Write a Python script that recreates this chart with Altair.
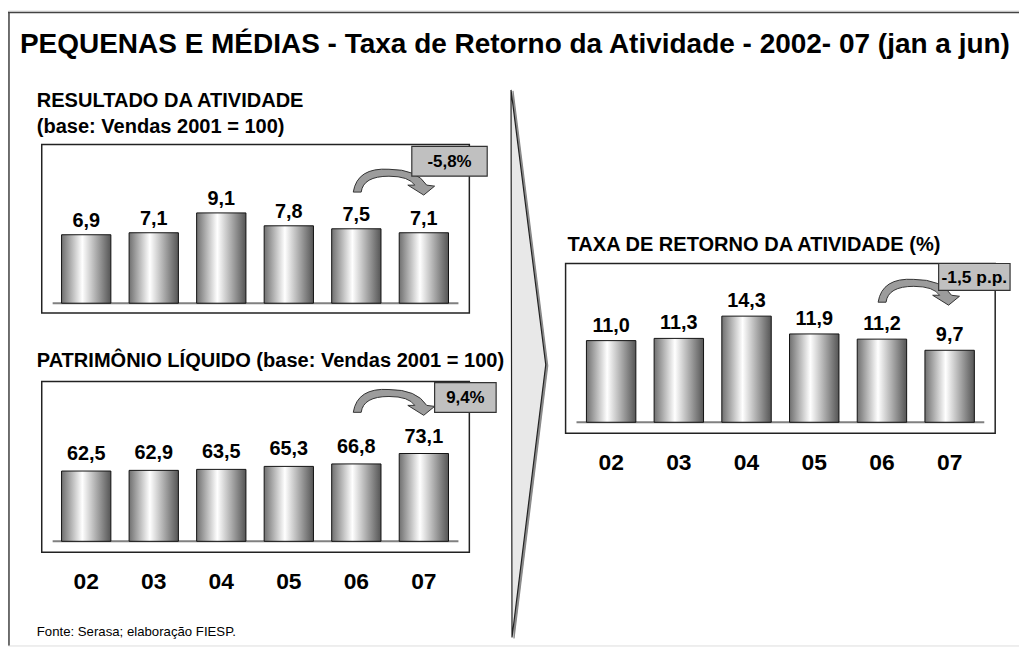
import altair as alt
import pandas as pd

# ---------------- data ----------------
years = ["02", "03", "04", "05", "06", "07"]
resultado = [6.9, 7.1, 9.1, 7.8, 7.5, 7.1]
patrimonio = [62.5, 62.9, 63.5, 65.3, 66.8, 73.1]
taxa = [11.0, 11.3, 14.3, 11.9, 11.2, 9.7]
variacoes = ["-5,8%", "9,4%", "-1,5 p.p."]

titulo = "PEQUENAS E MÉDIAS - Taxa de Retorno da Atividade - 2002- 07 (jan a jun)"
sub1a = "RESULTADO DA ATIVIDADE"
sub1b = "(base: Vendas 2001 = 100)"
sub2 = "PATRIMÔNIO LÍQUIDO (base: Vendas 2001 = 100)"
sub3 = "TAXA DE RETORNO DA ATIVIDADE (%)"
fonte = "Fonte: Serasa; elaboração FIESP."

FONT = "Liberation Sans"


def fmt(v):
    return f"{v:.1f}".replace(".", ",")


def frame(values):
    return pd.DataFrame({"v": values, "lbl": [fmt(x) for x in values], "year": years})


one = pd.DataFrame({"k": [0]})

grad = alt.Gradient(
    gradient="linear",
    stops=[
        alt.GradientStop(color="#707070", offset=0),
        alt.GradientStop(color="#ffffff", offset=0.42),
        alt.GradientStop(color="#555555", offset=1),
    ],
    x1=0, x2=1, y1=0, y2=0,
)


def panel(values, band_range, y_domain, y_range, base, rule_x, label_dy, year_y=None):
    df = frame(values)
    xs = alt.X("year:N", sort=years,
               scale=alt.Scale(type="band", domain=years, range=band_range,
                               paddingInner=0.27, paddingOuter=0),
               axis=None)
    ys = alt.Y("v:Q", scale=alt.Scale(domain=y_domain, range=y_range, zero=False, nice=False),
               axis=None)
    base_df = pd.DataFrame({"v": [base]})
    rule = alt.Chart(base_df).mark_rule(color="#808080", strokeWidth=2).encode(
        x=alt.value(rule_x[0]), x2=alt.value(rule_x[1]), y=ys)
    bars = alt.Chart(df).mark_bar(fill=grad, stroke="#111111", strokeWidth=1).encode(
        x=xs, y=ys, y2=alt.datum(base))
    labels = alt.Chart(df).mark_text(font=FONT, fontSize=20, fontWeight="bold",
                                     baseline="alphabetic", dy=label_dy, color="#000").encode(
        x=xs, y=ys, text="lbl:N")
    layers = [rule, bars, labels]
    if year_y is not None:
        yl = alt.Chart(df).mark_text(font=FONT, fontSize=23, fontWeight="bold",
                                     baseline="middle", color="#000").encode(
            x=xs, y=alt.value(year_y), text="year:N")
        layers.append(yl)
    return layers


def box(x1, x2, y1, y2, fill="transparent", stroke="#222222", sw=1.5):
    return alt.Chart(one).mark_rect(fill=fill, stroke=stroke, strokeWidth=sw).encode(
        x=alt.value(x1), x2=alt.value(x2), y=alt.value(y1), y2=alt.value(y2))


def text(t, x, y, size, weight="bold", align="left", baseline="alphabetic"):
    return alt.Chart(pd.DataFrame({"t": [t]})).mark_text(
        font=FONT, fontSize=size, fontWeight=weight, align=align, baseline=baseline,
        color="#000").encode(x=alt.value(x), y=alt.value(y), text="t:N")


CURVE = ("M -1 0.244 Q -0.902 -0.366 -0.122 -0.317 Q 0.561 -0.317 0.805 0.073 "
         "L 1 0.098 L 0.732 0.317 L 0.341 0.073 L 0.512 0.073 "
         "Q 0.366 -0.146 -0.122 -0.146 Q -0.756 -0.146 -0.805 0.244 Z")


def curved(x, y):
    return alt.Chart(one).mark_point(shape=CURVE, size=82 * 82, filled=True, fill="#9c9c9c",
                                     stroke="#333333", strokeWidth=1, opacity=1,
                                     fillOpacity=1).encode(x=alt.value(x), y=alt.value(y))


BIG = "M -0.0634 -1 L 0.0634 0.0036 L -0.0598 1 Z"


def big_arrow(x, y, fill, stroke):
    return alt.Chart(one).mark_point(shape=BIG, size=552 * 552, filled=True, fill=fill,
                                     stroke=stroke, strokeWidth=1.2, opacity=1,
                                     fillOpacity=1).encode(x=alt.value(x), y=alt.value(y))


def annot(label, x1, x2, y1, y2, size):
    return [
        box(x1, x2, y1, y2, fill="#c0c0c0", stroke="#333333", sw=1.2),
        text(label, (x1 + x2) / 2, (y1 + y2) / 2 + 1, size, align="center", baseline="middle"),
    ]


p1 = panel(resultado, [54, 444], [0, 14], [295, 155], 0, [45, 454], -8)
p2 = panel(patrimonio, [54, 444], [20, 80], [535, 435], 20, [45, 454], -11, year_y=576)
p3 = panel(taxa, [583, 974], [0, 20], [415, 265.4], 0, [573, 984], -9, year_y=456)

deco = [
    # outer frame (top and left edges)
    alt.Chart(one).mark_rule(color="#444444", strokeWidth=1.5).encode(
        x=alt.value(0), x2=alt.value(1019), y=alt.value(2)),
    alt.Chart(one).mark_rule(color="#444444", strokeWidth=1.5).encode(
        x=alt.value(1), y=alt.value(2), y2=alt.value(640)),
    # panel frames
    box(34, 465, 135, 305),
    box(34, 465, 374, 546),
    box(562, 995, 255, 426),
    # big arrow
    big_arrow(526.5, 357, "#8a8a8a", "#8a8a8a"),
    big_arrow(524.5, 356, "#e8e8e8", "#222222"),
    # texts
    text(titulo, 12, 43, 28.2),
    text(sub1a, 29, 97, 20.2),
    text(sub1b, 29, 123, 20.2),
    text(sub2, 29, 359, 20.2),
    text(sub3, 564, 242, 20.2),
    text(fonte, 29, 630, 13.3, weight="normal"),
    # variations
    curved(389, 173),
    curved(389, 395),
    curved(918, 284),
]
deco += annot(variacoes[0], 407, 483, 137, 167, 17)
deco += annot(variacoes[1], 430, 492, 375, 405, 17)
deco += annot(variacoes[2], 938, 1010, 255, 282, 17.5)

chart = alt.layer(*(p1 + p2 + p3 + deco)).resolve_scale(
    x="independent", y="independent"
).properties(
    width=1019, height=640,
    autosize=alt.AutoSizeParams(type="none"),
    padding={"left": 0, "top": 0, "right": 0, "bottom": 0},
).configure_view(stroke=None).configure(background="white")

chart.save("out.html", embed_options={"renderer": "svg", "actions": False})
